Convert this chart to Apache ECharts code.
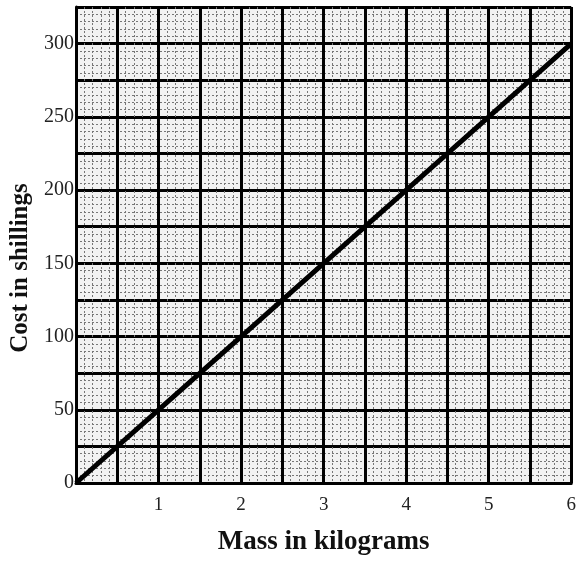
<!DOCTYPE html>
<html>
<head>
<meta charset="utf-8">
<script src="https://cdn.jsdelivr.net/npm/echarts@6/dist/echarts.min.js"></script>
<style>html,body{margin:0;padding:0;background:#fff;}#c{width:579px;height:565px;}</style>
</head>
<body>
<div id="c"></div>
<script>
var massKg = [0, 1, 2, 3, 4, 5, 6];
var costShillings = [0, 50, 100, 150, 200, 250, 300];
var xAxisTitle = "Mass in kilograms";
var yAxisTitle = "Cost in shillings";

var lineData = massKg.map(function (m, i) { return [m, costShillings[i]]; });
var chart = echarts.init(document.getElementById('c'));
var serif = '"Liberation Serif", "DejaVu Serif", serif';
chart.setOption({
  animation: false,
  backgroundColor: '#fff',
  grid: { left: 75, right: 2, top: 7, bottom: 82, show: true, backgroundColor: '#f2f2f2', borderWidth: 0 },
  xAxis: {
    type: 'value', min: 0, max: 6, interval: 0.5,
    name: xAxisTitle, nameLocation: 'middle', nameGap: 46,
    nameTextStyle: { fontFamily: serif, fontWeight: 'bold', fontSize: 27, color: '#111' },
    axisLine: { show: true, onZero: false, lineStyle: { color: '#000', width: 3 } },
    axisTick: { show: false },
    axisLabel: { fontFamily: serif, fontSize: 19, color: '#222', margin: 13,
      formatter: function (v) { return (v > 0 && Math.abs(v - Math.round(v)) < 1e-6) ? String(Math.round(v)) : ''; } },
    splitLine: { show: true, lineStyle: { color: '#000', width: 3 } },
    minorTick: { show: false, splitNumber: 5 },
    minorSplitLine: { show: true, lineStyle: { color: '#777', width: 1, type: [2, 2] } }
  },
  yAxis: {
    type: 'value', min: 0, max: 325, interval: 25,
    name: yAxisTitle, nameLocation: 'middle', nameGap: 43,
    nameTextStyle: { fontFamily: serif, fontWeight: 'bold', fontSize: 25, color: '#111', padding: [0, 46, 0, 0] },
    axisLine: { show: true, onZero: false, lineStyle: { color: '#000', width: 3 } },
    axisTick: { show: false },
    axisLabel: { fontFamily: serif, fontSize: 20, color: '#222', margin: 2,
      formatter: function (v) { return (v % 50 === 0) ? String(v) : ''; } },
    splitLine: { show: true, lineStyle: { color: '#000', width: 3 } },
    minorTick: { show: false, splitNumber: 5 },
    minorSplitLine: { show: true, lineStyle: { color: '#777', width: 1, type: [2, 2] } }
  },
  series: [{
    type: 'line', data: lineData, symbol: 'none',
    lineStyle: { color: '#000', width: 5 }
  }]
});
</script>
</body>
</html>
